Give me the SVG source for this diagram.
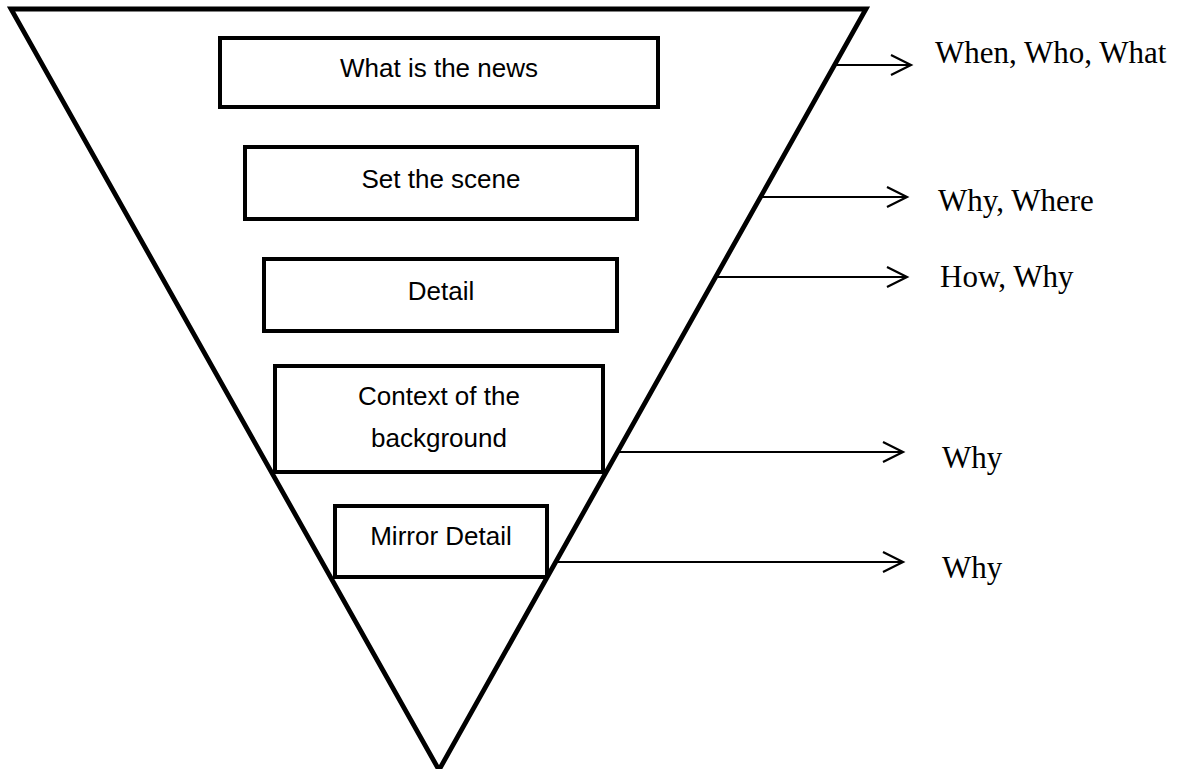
<svg xmlns="http://www.w3.org/2000/svg" width="1180" height="769" viewBox="0 0 1180 769">
<style>
.box{fill:#fff;stroke:#000;stroke-width:4;}
.btxt{font-family:"Liberation Sans",Arial,sans-serif;font-size:26px;fill:#000;text-anchor:middle;}
.ltxt{font-family:"Liberation Serif","Times New Roman",serif;font-size:31px;fill:#000;}
.conn{stroke:#000;stroke-width:2;fill:none;}
</style>
<defs>
<marker id="arr" markerUnits="userSpaceOnUse" markerWidth="26" markerHeight="26" viewBox="-22 -12 26 24" refX="0" refY="0" orient="auto">
<path d="M-20,-10 L0,0 L-20,10" fill="none" stroke="#000" stroke-width="2.2"/>
</marker>
</defs>
<rect width="1180" height="769" fill="#fff"/>
<g id="funnel">
<path d="M11,9 L866,9 L439,770 Z" fill="none" stroke="#000" stroke-width="4.8" stroke-linejoin="miter"/>
</g>
<g id="node-news">
<rect class="box" x="220" y="38" width="438" height="69"/>
<text class="btxt" x="439" y="77">What is the news</text>
</g>
<g id="node-scene">
<rect class="box" x="245" y="147" width="392" height="72"/>
<text class="btxt" x="441" y="188">Set the scene</text>
</g>
<g id="node-detail">
<rect class="box" x="264" y="259" width="353" height="72"/>
<text class="btxt" x="441" y="300">Detail</text>
</g>
<g id="node-context">
<rect class="box" x="275" y="366" width="328" height="106"/>
<text class="btxt" x="439" y="405">Context of the</text>
<text class="btxt" x="439" y="447">background</text>
</g>
<g id="node-mirror">
<rect class="box" x="335" y="506" width="212" height="71"/>
<text class="btxt" x="441" y="545">Mirror Detail</text>
</g>
<g id="connectors">
<line class="conn" x1="835" y1="65" x2="911" y2="65" marker-end="url(#arr)"/>
<line class="conn" x1="761" y1="197" x2="907" y2="197" marker-end="url(#arr)"/>
<line class="conn" x1="716" y1="277" x2="907" y2="277" marker-end="url(#arr)"/>
<line class="conn" x1="617" y1="452" x2="903" y2="452" marker-end="url(#arr)"/>
<line class="conn" x1="555" y1="562" x2="903" y2="562" marker-end="url(#arr)"/>
</g>
<g id="labels">
<text class="ltxt" x="935" y="63">When, Who, What</text>
<text class="ltxt" x="938" y="211">Why, Where</text>
<text class="ltxt" x="940" y="287">How, Why</text>
<text class="ltxt" x="942" y="468">Why</text>
<text class="ltxt" x="942" y="578">Why</text>
</g>
</svg>
